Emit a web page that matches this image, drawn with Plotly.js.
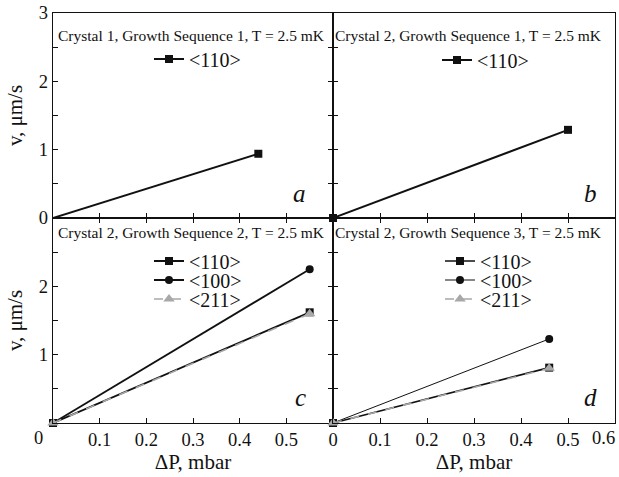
<!DOCTYPE html>
<html><head><meta charset="utf-8">
<script src="https://cdn.plot.ly/plotly-3.0.1.min.js"></script>
<style>html,body{margin:0;padding:0;background:#fff}</style>
</head><body><div id="chart" style="width:619px;height:477px"></div>
<script>
// Data (ΔP in mbar, v in µm/s)
const panelTitles = [
  "Crystal 1, Growth Sequence 1, T = 2.5 mK",
  "Crystal 2, Growth Sequence 1, T = 2.5 mK",
  "Crystal 2, Growth Sequence 2, T = 2.5 mK",
  "Crystal 2, Growth Sequence 3, T = 2.5 mK"
];
const panelLetters = ["a", "b", "c", "d"];
const seriesNames = ["<110>", "<100>", "<211>"];
const a_dP_110 = [0, 0.44];   const a_v_110 = [0, 0.94];
const b_dP_110 = [0, 0.50];   const b_v_110 = [0, 1.29];
const c_dP_110 = [0, 0.55];   const c_v_110 = [0, 1.62];
const c_dP_100 = [0, 0.55];   const c_v_100 = [0, 2.25];
const c_dP_211 = [0, 0.55];   const c_v_211 = [0, 1.60];
const d_dP_110 = [0, 0.46];   const d_v_110 = [0, 0.81];
const d_dP_100 = [0, 0.46];   const d_v_100 = [0, 1.23];
const d_dP_211 = [0, 0.46];   const d_v_211 = [0, 0.80];
const xTickVals = [0, 0.1, 0.2, 0.3, 0.4, 0.5, 0.6];
const xTickTextLeft = ["", "0.1", "0.2", "0.3", "0.4", "0.5", ""];
const xTickTextRight = ["0", "0.1", "0.2", "0.3", "0.4", "0.5", ""];
const yTickValsTop = [0, 1, 2, 3];
const yTickValsBottom = [1, 2];

(function () {
const FONT = "Liberation Serif";
const W = 619, H = 477;
const px = v => v / W, py = v => 1 - v / H;
const sq = {symbol: "square", size: 8, color: "#111"};
const ci = {symbol: "circle", size: 8, color: "#111"};
const tri = {symbol: "triangle-up", size: 10, color: "#a8a8a8"};
const blackLine = w => ({color: "#111", width: w});
const grayLine = {color: "#a8a8a8", width: 1.6, dash: "dash"};
function mk(x, y, xa, ya, name, marker, line, legend, extra) {
  return Object.assign({type: "scatter", mode: "lines+markers", x, y, xaxis: xa, yaxis: ya,
    name, marker, line, legend, cliponaxis: false}, extra || {});
}
const data = [
  mk(a_dP_110, a_v_110, "x", "y", seriesNames[0], sq, blackLine(2), "legend",
      {selectedpoints: [1], unselected: {marker: {opacity: 0}}}),
  mk(b_dP_110, b_v_110, "x2", "y2", seriesNames[0], sq, blackLine(2), "legend2"),
  mk(c_dP_110, c_v_110, "x3", "y3", seriesNames[0], sq, blackLine(1.8), "legend3"),
  mk(c_dP_100, c_v_100, "x3", "y3", seriesNames[1], ci, blackLine(1.8), "legend4"),
  mk(c_dP_211, c_v_211, "x3", "y3", seriesNames[2], tri, grayLine, "legend5"),
  mk(d_dP_110, d_v_110, "x4", "y4", seriesNames[0], sq, blackLine(1.6), "legend6"),
  mk(d_dP_100, d_v_100, "x4", "y4", seriesNames[1], ci, blackLine(1), "legend7"),
  mk(d_dP_211, d_v_211, "x4", "y4", seriesNames[2], tri, grayLine, "legend8")
];
const leftDom = [px(53), px(333)], rightDom = [px(333), px(615)];
const topDom = [py(218), py(13)], botDom = [py(423), py(218)];
function tf(s) { return {family: FONT, size: s || 18.5, color: "#111"}; }
function xax(dom, anchor, labels, text, mirror) {
  return {domain: dom, anchor, range: [0, 0.6], tickmode: "array", tickvals: xTickVals,
    ticktext: text, showticklabels: labels, ticks: "inside", ticklen: 5, tickcolor: "#111",
    showline: true, linecolor: "#111", linewidth: 1.2, mirror, showgrid: false, zeroline: false,
    tickfont: tf(), fixedrange: true,
    title: labels ? {text: "ΔP, mbar", font: tf(21), standoff: 2} : {text: ""}};
}
function yax(dom, anchor, labels, tvals, mirror, title) {
  return {domain: dom, anchor, range: [0, 3], tickmode: "array", tickvals: tvals,
    showticklabels: labels, ticks: "inside", ticklen: 5, tickcolor: "#111",
    minor: {tickmode: "array", tickvals: [0.5, 1.5, 2.5], ticks: "inside", ticklen: 5, tickcolor: "#111"},
    showline: true, linecolor: "#111", linewidth: 1.2, mirror, showgrid: false, zeroline: false,
    tickfont: tf(), fixedrange: true,
    title: title ? {text: "v, μm/s", font: tf(21), standoff: 10} : {text: ""}};
}
function leg(xp, yp) { return {bgcolor: "rgba(0,0,0,0)", borderwidth: 0, xanchor: "left", yanchor: "middle",
  font: tf(20), itemwidth: 30, x: px(xp), y: py(yp)}; }
const titlePos = [[191, 36], [468, 36], [191, 232], [468, 232]];
const letterPos = [[299, 193], [590, 193], [300, 397], [590, 397]];
const ann = (text, x, y, font) => ({text, x: px(x), y: py(y), xref: "paper", yref: "paper",
  showarrow: false, font, xanchor: "center", yanchor: "middle"});
const annotations = [];
panelTitles.forEach((t, i) => annotations.push(ann(t, titlePos[i][0], titlePos[i][1], tf(15.5))));
panelLetters.forEach((t, i) => annotations.push(ann("<i>" + t + "</i>", letterPos[i][0], letterPos[i][1], tf(25))));
annotations.push(ann("0", 38, 438, tf()));
annotations.push(ann("0.6", 603, 438, tf()));
const layout = {
  width: W, height: H, margin: {l: 0, r: 0, t: 0, b: 0},
  paper_bgcolor: "#fff", plot_bgcolor: "#fff", font: tf(),
  showlegend: true,
  xaxis: xax(leftDom, "y", false, xTickTextLeft, true),
  yaxis: yax(topDom, "x", true, yTickValsTop, "ticks", true),
  xaxis2: xax(rightDom, "y2", false, xTickTextRight, true),
  yaxis2: yax(topDom, "x2", false, yTickValsTop, true, false),
  xaxis3: xax(leftDom, "y3", true, xTickTextLeft, "ticks"),
  yaxis3: yax(botDom, "x3", true, yTickValsBottom, "ticks", true),
  xaxis4: xax(rightDom, "y4", true, xTickTextRight, "ticks"),
  yaxis4: yax(botDom, "x4", false, yTickValsTop, true, false),
  legend: leg(149, 59), legend2: leg(437, 60),
  legend3: leg(149, 261), legend4: leg(149, 280), legend5: leg(149, 299),
  legend6: leg(440, 261), legend7: leg(440, 280), legend8: leg(440, 299),
  annotations
};
Plotly.newPlot("chart", data, layout, {displayModeBar: false, staticPlot: true});
})();
</script></body></html>
